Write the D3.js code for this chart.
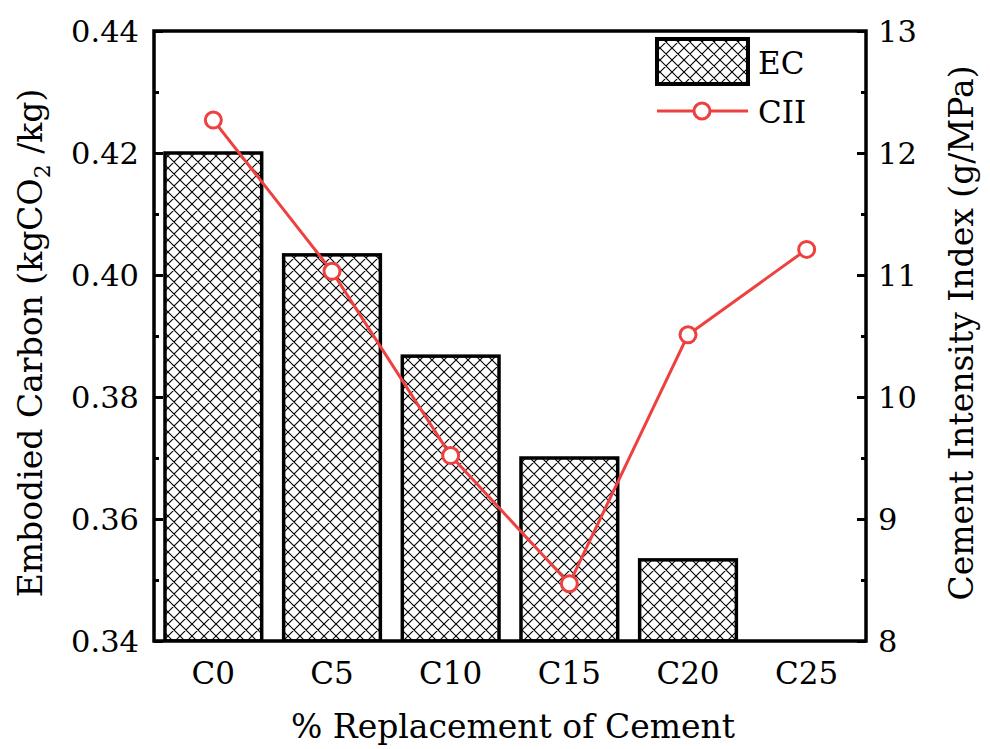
<!DOCTYPE html>
<html>
<head>
<meta charset="utf-8">
<script src="https://cdn.jsdelivr.net/npm/d3@7/dist/d3.min.js"></script>
<style>
  html, body { margin: 0; padding: 0; background: #fff; }
  svg { display: block; }
  text { font-family: "DejaVu Serif", serif; fill: #000; }
</style>
</head>
<body>
<svg id="chart" width="990" height="749"></svg>
<script>
// Mix labels and measured values
const categories = ["C0", "C5", "C10", "C15", "C20", "C25"];
const ecValues = [0.420, 0.4033, 0.3867, 0.370, 0.3533, 0.3367];   // kgCO2/kg
const ciiValues = [12.27, 11.03, 9.52, 8.47, 10.51, 11.21];        // g/MPa
const leftTicks = [0.34, 0.36, 0.38, 0.40, 0.42, 0.44];
const leftMinor = [0.35, 0.37, 0.39, 0.41, 0.43];
const rightTicks = [8, 9, 10, 11, 12, 13];
const rightMinor = [8.5, 9.5, 10.5, 11.5, 12.5];

const svg = d3.select("#chart");
const margin = { left: 154, right: 124, top: 31, bottom: 108 };
const W = 990, H = 749;
const x0 = margin.left, x1 = W - margin.right, y0 = margin.top, y1 = H - margin.bottom;

const x = d3.scaleBand().domain(categories).range([x0, x1])
  .paddingInner(0.185).paddingOuter(0.0925);
const yL = d3.scaleLinear().domain([0.34, 0.44]).range([y1, y0]);
const yR = d3.scaleLinear().domain([8, 13]).range([y1, y0]);

const red = "#ef4040";

// Cross-hatch fill for the bars
const defs = svg.append("defs");
const pat = defs.append("pattern").attr("id", "hatch")
  .attr("patternUnits", "userSpaceOnUse").attr("width", 12).attr("height", 12);
pat.append("rect").attr("width", 12).attr("height", 12).attr("fill", "#fff");
pat.append("path").attr("d", "M0,0 L12,12 M12,0 L0,12 M-3,3 L3,-3 M9,15 L15,9 M-3,9 L3,15 M9,-3 L15,3")
  .attr("stroke", "#000").attr("stroke-width", 1.1);

defs.append("clipPath").attr("id", "plotClip")
  .append("rect").attr("x", x0).attr("y", y0).attr("width", x1 - x0).attr("height", y1 - y0);

// Bars (EC)
svg.append("g").attr("clip-path", "url(#plotClip)")
  .selectAll("rect").data(categories).join("rect")
  .attr("x", d => x(d))
  .attr("width", x.bandwidth())
  .attr("y", (d, i) => Math.min(yL(ecValues[i]), yL(0.34)))
  .attr("height", (d, i) => Math.max(0, yL(0.34) - yL(ecValues[i])))
  .attr("fill", "url(#hatch)")
  .attr("stroke", "#000").attr("stroke-width", 3.5);

// Axis frame with inward ticks
const tickStyle = g => {
  g.select(".domain").remove();
  g.selectAll("line").attr("stroke", "#000").attr("stroke-width", 3);
};
svg.append("g").attr("transform", `translate(${x0},0)`)
  .call(d3.axisRight(yL).tickValues(leftTicks).tickSize(9).tickFormat(""))
  .call(tickStyle);
svg.append("g").attr("transform", `translate(${x0},0)`)
  .call(d3.axisRight(yL).tickValues(leftMinor).tickSize(5).tickFormat(""))
  .call(tickStyle);
svg.append("g").attr("transform", `translate(${x1},0)`)
  .call(d3.axisLeft(yR).tickValues(rightTicks).tickSize(9).tickFormat(""))
  .call(tickStyle);
svg.append("g").attr("transform", `translate(${x1},0)`)
  .call(d3.axisLeft(yR).tickValues(rightMinor).tickSize(5).tickFormat(""))
  .call(tickStyle);

svg.append("rect").attr("x", x0).attr("y", y0)
  .attr("width", x1 - x0).attr("height", y1 - y0)
  .attr("fill", "none").attr("stroke", "#000").attr("stroke-width", 3.5);

// Tick labels
const fs = 30;
svg.append("g").selectAll("text").data(leftTicks).join("text")
  .attr("x", x0 - 15).attr("y", d => yL(d)).attr("dy", "0.36em")
  .attr("text-anchor", "end").attr("font-size", 30.5)
  .text(d => d.toFixed(2));
svg.append("g").selectAll("text").data(rightTicks).join("text")
  .attr("x", x1 + 12).attr("y", d => yR(d)).attr("dy", "0.36em")
  .attr("text-anchor", "start").attr("font-size", 30.5)
  .text(d => d);
svg.append("g").selectAll("text").data(categories).join("text")
  .attr("x", d => x(d) + x.bandwidth() / 2).attr("y", y1 + 43)
  .attr("text-anchor", "middle").attr("font-size", 31)
  .text(d => d);

// Axis titles
const tfs = 33;
svg.append("text").attr("x", 513).attr("y", 738)
  .attr("text-anchor", "middle").attr("font-size", tfs)
  .text("% Replacement of Cement");

const lt = svg.append("text")
  .attr("transform", `translate(42,343) rotate(-90)`)
  .attr("text-anchor", "middle").attr("font-size", tfs);
lt.append("tspan").text("Embodied Carbon (kgCO");
lt.append("tspan").attr("font-size", 22).attr("dy", 8).text("2");
lt.append("tspan").attr("dy", -8).text(" /kg)");

svg.append("text")
  .attr("transform", `translate(973,333) rotate(-90)`)
  .attr("text-anchor", "middle").attr("font-size", tfs)
  .text("Cement Intensity Index (g/MPa)");

// CII line with open circle markers
const line = d3.line().x((d, i) => x(categories[i]) + x.bandwidth() / 2).y(d => yR(d));
svg.append("path").datum(ciiValues).attr("d", line)
  .attr("fill", "none").attr("stroke", red).attr("stroke-width", 3);
svg.append("g").selectAll("circle").data(ciiValues).join("circle")
  .attr("cx", (d, i) => x(categories[i]) + x.bandwidth() / 2)
  .attr("cy", d => yR(d)).attr("r", 8)
  .attr("fill", "#fff").attr("stroke", red).attr("stroke-width", 3);

// Legend
const lg = svg.append("g");
lg.append("rect").attr("x", 657).attr("y", 39).attr("width", 91).attr("height", 45)
  .attr("fill", "url(#hatch)").attr("stroke", "#000").attr("stroke-width", 4);
lg.append("text").attr("x", 758).attr("y", 74).attr("font-size", 31).text("EC");
lg.append("line").attr("x1", 657).attr("x2", 748).attr("y1", 111).attr("y2", 111)
  .attr("stroke", red).attr("stroke-width", 3);
lg.append("circle").attr("cx", 702).attr("cy", 111).attr("r", 8)
  .attr("fill", "#fff").attr("stroke", red).attr("stroke-width", 3);
lg.append("text").attr("x", 758).attr("y", 123).attr("font-size", 31).text("CII");
</script>
</body>
</html>
